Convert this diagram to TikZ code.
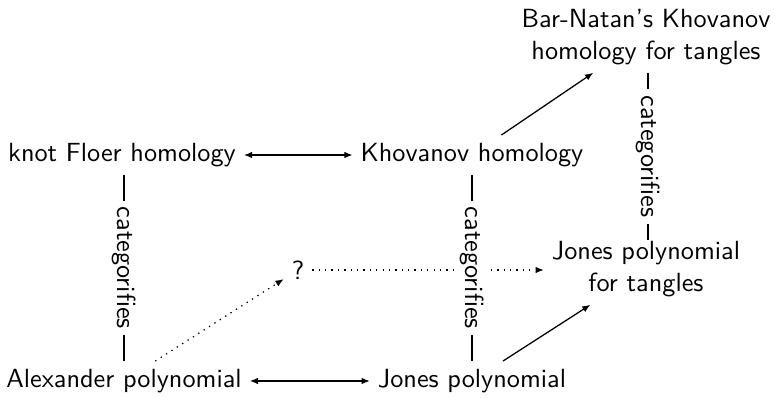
\documentclass[tikz,border=0pt]{standalone}
\usetikzlibrary{arrows.meta}
\begin{document}
\begin{tikzpicture}[x=0.01378cm,y=-0.01378cm,
  every node/.style={font=\sffamily\fontsize{10.3}{12.4}\selectfont},
  obj/.style={inner sep=3pt, align=center},
  tip/.tip={Latex[length=3.2pt,width=2.6pt]},
  dual/.style={tip-tip, line width=0.5pt},
  arr/.style={-tip, line width=0.5pt},
  dotarr/.style={-tip, dotted, line width=0.5pt},
  rel/.style={line width=0.5pt},
  cat/.style={midway, fill=white, rotate=-90, inner sep=2.5pt}]
\useasboundingbox (0,0) rectangle (775,398);
\node[obj] (kfh) at (122,155) {knot Floer homology};
\node[obj] (kh) at (472,155) {Khovanov homology};
\node[obj] (bn) at (646,37) {Bar-Natan's Khovanov\\homology for tangles};
\node[obj] (jt) at (646,269) {Jones polynomial\\for tangles};
\node[obj] (q) at (298,270) {?};
\node[obj] (ap) at (124,381) {Alexander polynomial};
\node[obj] (jp) at (472,381) {Jones polynomial};
\coordinate (bnb) at (648,73);
\coordinate (jtt) at (648,240);
\draw[dual] (kfh) -- (kh);
\draw[dual] (ap) -- (jp);
\draw[arr] (kh) -- (bn);
\draw[arr] (jp) -- (jt);
\draw[dotarr] (ap) -- (q);
\draw[dotarr] (q) -- (q -| jt.west);
\draw[rel] (kfh.south -| ap.north) -- (ap.north) node[cat] {categorifies};
\draw[rel] (kh.south) -- (jp.north) node[cat] {categorifies};
\draw[rel] (bnb) -- (jtt) node[cat] {categorifies};
\end{tikzpicture}
\end{document}
